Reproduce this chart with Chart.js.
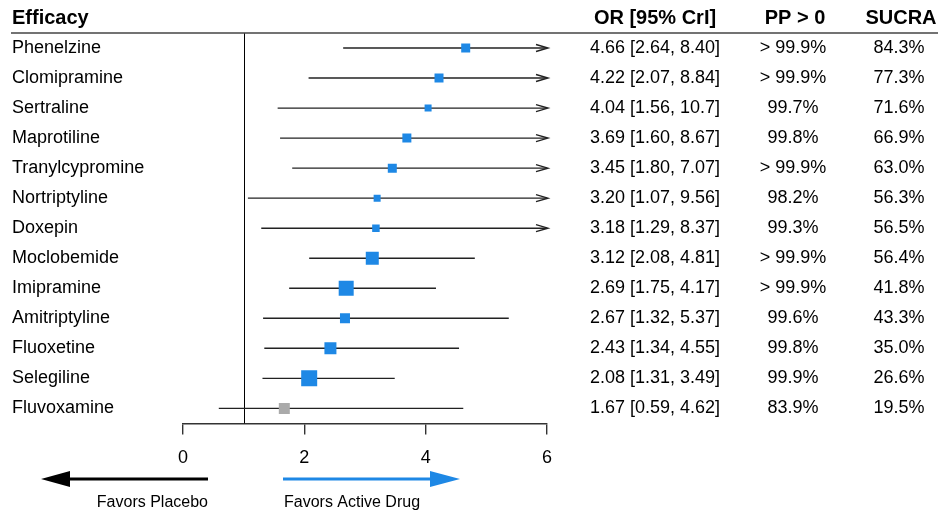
<!DOCTYPE html>
<html>
<head>
<meta charset="utf-8">
<script src="https://cdn.jsdelivr.net/npm/chart.js@4.4.0/dist/chart.umd.min.js"></script>
<style>
    body { margin: 0; background: #fff; }
    canvas { display: block; }
</style>
</head>
<body>
<canvas id="forest" width="938" height="513"></canvas>
<script>
const drugs = ["Phenelzine", "Clomipramine", "Sertraline", "Maprotiline", "Tranylcypromine", "Nortriptyline",
    "Doxepin", "Moclobemide", "Imipramine", "Amitriptyline", "Fluoxetine", "Selegiline", "Fluvoxamine"];
const or = [4.66, 4.22, 4.04, 3.69, 3.45, 3.20, 3.18, 3.12, 2.69, 2.67, 2.43, 2.08, 1.67];
const lower = [2.64, 2.07, 1.56, 1.60, 1.80, 1.07, 1.29, 2.08, 1.75, 1.32, 1.34, 1.31, 0.59];
const upper = [8.40, 8.84, 10.7, 8.67, 7.07, 9.56, 8.37, 4.81, 4.17, 5.37, 4.55, 3.49, 4.62];
const ciText = ["4.66 [2.64, 8.40]", "4.22 [2.07, 8.84]", "4.04 [1.56, 10.7]", "3.69 [1.60, 8.67]",
    "3.45 [1.80, 7.07]", "3.20 [1.07, 9.56]", "3.18 [1.29, 8.37]", "3.12 [2.08, 4.81]", "2.69 [1.75, 4.17]",
    "2.67 [1.32, 5.37]", "2.43 [1.34, 4.55]", "2.08 [1.31, 3.49]", "1.67 [0.59, 4.62]"];
const pp = ["> 99.9%", "> 99.9%", "99.7%", "99.8%", "> 99.9%", "98.2%", "99.3%", "> 99.9%", "> 99.9%",
    "99.6%", "99.8%", "99.9%", "83.9%"];
const sucra = ["84.3%", "77.3%", "71.6%", "66.9%", "63.0%", "56.3%", "56.5%", "56.4%", "41.8%",
    "43.3%", "35.0%", "26.6%", "19.5%"];
// relative weight of each estimate (box size)
const weight = [9, 9, 7, 9, 9, 7, 7.5, 13, 15, 10, 12, 16, 11];
const xTicks = [0, 2, 4, 6];

const FONT = "'Liberation Sans', Arial, Helvetica, sans-serif";
const BLUE = "#1E88E5";
const GREY = "#AAAAAA";

let points = [];
for (let i = 0; i < drugs.length; i++) {
    points.push({x: or[i], y: i});
}

const forestPlugin = {
    id: "forest",
    beforeDatasetsDraw(chart) {
        const ctx = chart.ctx;
        const xs = chart.scales.x;
        const ys = chart.scales.y;
        const area = chart.chartArea;
        ctx.save();
        // line of no effect
        ctx.strokeStyle = "#000";
        ctx.lineWidth = 1;
        ctx.beginPath();
        ctx.moveTo(Math.round(xs.getPixelForValue(1)) + 0.5, area.top);
        ctx.lineTo(Math.round(xs.getPixelForValue(1)) + 0.5, area.bottom);
        ctx.stroke();
        // intervals
        ctx.strokeStyle = "#222";
        ctx.lineWidth = 1.4;
        for (let i = 0; i < drugs.length; i++) {
            const y = ys.getPixelForValue(i);
            const x0 = xs.getPixelForValue(Math.max(lower[i], xs.min));
            const x1 = xs.getPixelForValue(Math.min(upper[i], xs.max));
            ctx.beginPath();
            ctx.moveTo(x0, y);
            ctx.lineTo(x1, y);
            ctx.stroke();
            if (upper[i] > xs.max) {
                ctx.beginPath();
                ctx.moveTo(x1 - 11, y - 3.5);
                ctx.lineTo(x1 + 1, y);
                ctx.lineTo(x1 - 11, y + 3.5);
                ctx.stroke();
            }
        }
        ctx.restore();
    },
    afterDraw(chart) {
        const ctx = chart.ctx;
        const ys = chart.scales.y;
        const area = chart.chartArea;
        ctx.save();
        // header
        ctx.fillStyle = "#000";
        ctx.textBaseline = "middle";
        ctx.font = "bold 20px " + FONT;
        ctx.textAlign = "left";
        ctx.fillText("Efficacy", 12, 18);
        ctx.textAlign = "center";
        ctx.fillText("OR [95% CrI]", 655, 18);
        ctx.fillText("PP > 0", 795, 18);
        ctx.fillText("SUCRA", 901, 18);
        ctx.strokeStyle = "#444";
        ctx.lineWidth = 1.5;
        ctx.beginPath();
        ctx.moveTo(11, area.top);
        ctx.lineTo(938, area.top);
        ctx.stroke();
        // rows
        ctx.font = "18px " + FONT;
        for (let i = 0; i < drugs.length; i++) {
            const y = ys.getPixelForValue(i);
            ctx.textAlign = "left";
            ctx.fillText(drugs[i], 12, y);
            ctx.textAlign = "center";
            ctx.fillText(ciText[i], 655, y);
            ctx.fillText(pp[i], 793, y);
            ctx.fillText(sucra[i], 899, y);
        }
        // favours arrows
        const ay = 479;
        ctx.lineWidth = 3;
        ctx.strokeStyle = "#000";
        ctx.fillStyle = "#000";
        ctx.beginPath();
        ctx.moveTo(208, ay);
        ctx.lineTo(66, ay);
        ctx.stroke();
        ctx.beginPath();
        ctx.moveTo(41, ay);
        ctx.lineTo(70, ay - 8);
        ctx.lineTo(70, ay + 8);
        ctx.closePath();
        ctx.fill();
        ctx.strokeStyle = BLUE;
        ctx.fillStyle = BLUE;
        ctx.beginPath();
        ctx.moveTo(283, ay);
        ctx.lineTo(434, ay);
        ctx.stroke();
        ctx.beginPath();
        ctx.moveTo(460, ay);
        ctx.lineTo(430, ay - 8);
        ctx.lineTo(430, ay + 8);
        ctx.closePath();
        ctx.fill();
        ctx.fillStyle = "#000";
        ctx.font = "16px " + FONT;
        ctx.textAlign = "right";
        ctx.fillText("Favors Placebo", 208, 503);
        ctx.textAlign = "left";
        ctx.fillText("Favors Active Drug", 284, 503);
        ctx.restore();
    }
};

new Chart(document.getElementById("forest"), {
    type: "scatter",
    data: {
        datasets: [{
            data: points,
            pointStyle: "rect",
            pointRadius: weight.map(w => w / Math.SQRT2),
            pointHoverRadius: weight.map(w => w / Math.SQRT2),
            pointBorderWidth: 0,
            pointBackgroundColor: lower.map(l => l > 1 ? BLUE : GREY)
        }]
    },
    options: {
        responsive: false,
        animation: false,
        events: [],
        layout: {
            padding: {left: 183, right: 391, top: 33, bottom: 31}
        },
        plugins: {
            legend: {display: false},
            tooltip: {enabled: false}
        },
        scales: {
            x: {
                type: "linear",
                min: 0,
                max: 6,
                afterBuildTicks: axis => {
                    axis.ticks = xTicks.map(v => ({value: v}));
                },
                grid: {
                    drawOnChartArea: false,
                    drawTicks: true,
                    tickLength: 11,
                    color: "#333",
                    lineWidth: 1.4
                },
                border: {display: true, color: "#333", width: 1.4},
                ticks: {
                    color: "#000",
                    padding: 13,
                    font: {family: FONT, size: 18}
                }
            },
            y: {
                type: "linear",
                min: -0.5,
                max: drugs.length - 0.5,
                reverse: true,
                display: false
            }
        }
    },
    plugins: [forestPlugin]
});
</script>
</body>
</html>
